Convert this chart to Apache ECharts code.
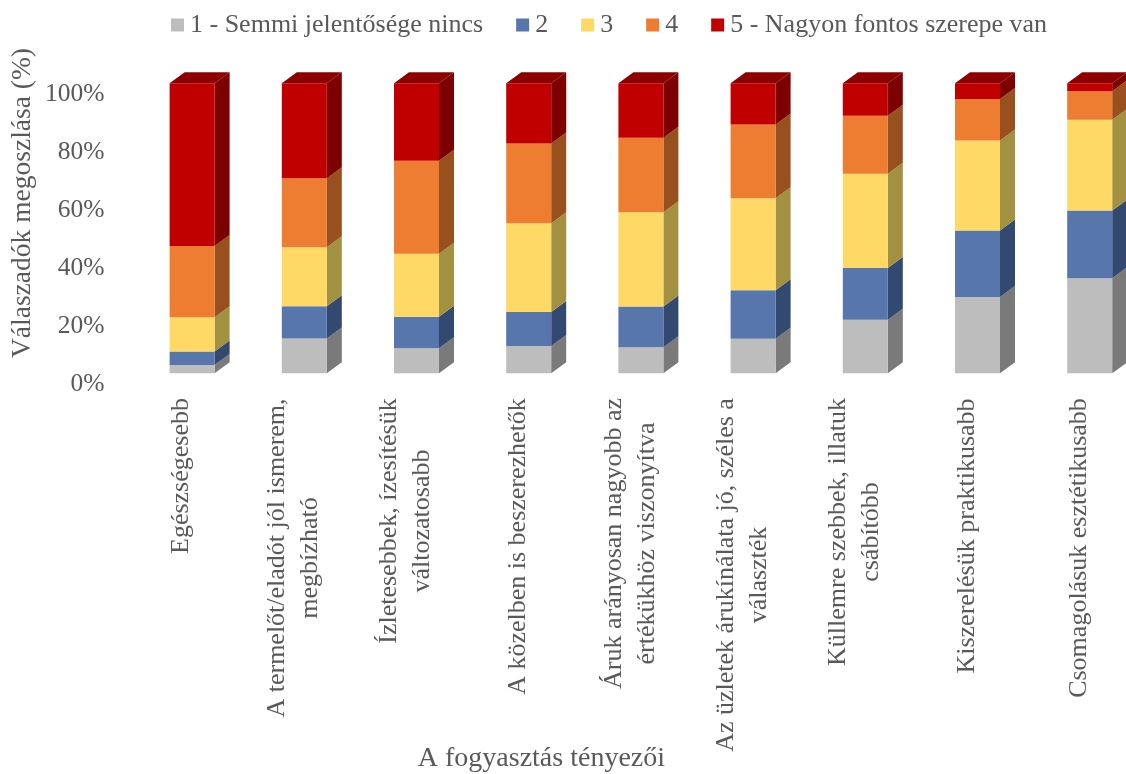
<!DOCTYPE html>
<html>
<head>
<meta charset="utf-8">
<style>html,body{margin:0;padding:0;background:#fff}#chart{width:1126px;height:774px}</style>
<script src="https://cdn.jsdelivr.net/npm/echarts@6/dist/echarts.min.js"></script>
</head>
<body>
<div id="chart"></div>
<script>
// Share of respondents per rating, by consumption factor (%)
const categories = [
  'Egészségesebb',
  'A termelőt/eladót jól ismerem,\nmegbízható',
  'Ízletesebbek, ízesítésük\nváltozatosabb',
  'A közelben is beszerezhetők',
  'Áruk arányosan nagyobb az\nértékükhöz viszonyítva',
  'Az üzletek árukínálata jó, széles a\nválaszték',
  'Küllemre szebbek, illatuk\ncsábítóbb',
  'Kiszerelésük praktikusabb',
  'Csomagolásuk esztétikusabb'
];
const rating1 = [2.9, 12.0, 8.6, 9.4, 9.0, 11.9, 18.5, 26.3, 32.8];
const rating2 = [4.6, 11.1, 10.9, 11.7, 14.0, 16.7, 17.8, 22.9, 23.3];
const rating3 = [11.8, 20.4, 21.7, 30.6, 32.5, 31.8, 32.5, 31.1, 31.3];
const rating4 = [24.6, 23.8, 32.1, 27.5, 25.7, 25.4, 20.0, 14.3, 9.9];
const rating5 = [56.1, 32.7, 26.7, 20.8, 18.8, 14.2, 11.2, 5.4, 2.7];
const seriesNames = ['1 - Semmi jelentősége nincs', '2', '3', '4', '5 - Nagyon fontos szerepe van'];
const seriesValues = [rating1, rating2, rating3, rating4, rating5];
const frontColors = ['#BDBDBD', '#5776AC', '#FFD966', '#ED7D31', '#C00000'];
const sideColors = ['#7A7A7A', '#34496F', '#A39142', '#99501F', '#7C0000'];
const topColor = '#8E0000';

const serif = '"Liberation Serif", "Times New Roman", serif';
const textColor = '#595959';
const labelSize = 26;

// Box geometry of the oblique projection, in pixels
const boxWidth = 45, depthX = 15, depthY = 11;
const frontShiftX = -12, frontShiftY = -10.7;

// Stacked segments: [category index, lower bound, upper bound]
function stackSegments(level) {
  return categories.map((_, i) => {
    let low = 0;
    for (let s = 0; s < level; s++) low += seriesValues[s][i];
    return [i, low, low + seriesValues[level][i]];
  });
}

function makeBoxRenderer(level) {
  return function (params, api) {
    const low = api.coord([api.value(0), api.value(1)]);
    const high = api.coord([api.value(0), api.value(2)]);
    const x0 = low[0] + frontShiftX, x1 = x0 + boxWidth;
    const yb = low[1] + frontShiftY, yt = high[1] + frontShiftY;
    const children = [
      { type: 'polygon', shape: { points: [[x1, yb], [x1 + depthX, yb - depthY], [x1 + depthX, yt - depthY], [x1, yt]] },
        style: { fill: sideColors[level] } },
      { type: 'rect', shape: { x: x0, y: yt, width: boxWidth, height: yb - yt },
        style: { fill: frontColors[level] } }
    ];
    if (level === seriesValues.length - 1) {
      children.push({ type: 'polygon', shape: { points: [[x0, yt], [x0 + depthX, yt - depthY], [x1 + depthX, yt - depthY], [x1, yt]] },
        style: { fill: topColor } });
    }
    return { type: 'group', children };
  };
}

// Multi-line category labels are centred inside the width of their longest line
const measure = document.createElement('canvas').getContext('2d');
measure.font = labelSize + 'px ' + serif;
const labelRich = {};
categories.forEach((c, i) => {
  const w = Math.ceil(Math.max(...c.split('\n').map(l => measure.measureText(l).width)));
  labelRich['c' + i] = { width: w, align: 'center', fontFamily: serif, fontSize: labelSize, color: textColor, lineHeight: 33 };
});

const chart = echarts.init(document.getElementById('chart'), null, { renderer: 'canvas' });
chart.setOption({
  animation: false,
  backgroundColor: '#fff',
  legend: {
    left: 166, top: 7, icon: 'rect', itemWidth: 13, itemHeight: 13, itemGap: 33,
    data: seriesNames,
    selectedMode: false,
    textStyle: { fontFamily: serif, fontSize: labelSize, color: textColor, padding: [0, 0, 0, 1] }
  },
  grid: { left: 125.5, top: 94, width: 1009.8, height: 290, containLabel: false, outerBoundsMode: 'none' },
  xAxis: {
    type: 'category',
    data: categories,
    name: 'A fogyasztás tényezői',
    nameLocation: 'middle',
    nameMoveOverlap: false,
    nameGap: 361,
    nameTextStyle: { fontFamily: serif, fontSize: 28, color: textColor, padding: [0, 178, 0, 0] },
    axisLine: { show: false },
    axisTick: { show: false },
    axisLabel: {
      interval: 0, rotate: 90, margin: 14,
      formatter: (v, i) => v.split('\n').map(l => '{c' + i + '|' + l + '}').join('\n'),
      rich: labelRich
    }
  },
  yAxis: {
    type: 'value', min: 0, max: 100, interval: 20,
    name: 'Válaszadók megoszlása (%)',
    nameLocation: 'middle',
    nameMoveOverlap: false,
    nameGap: 89,
    nameTextStyle: { fontFamily: serif, fontSize: 27.5, color: textColor, padding: [0, 0, 0, 72] },
    axisLine: { show: false },
    axisTick: { show: false },
    splitLine: { show: false },
    axisLabel: { formatter: '{value}%', fontFamily: serif, fontSize: 25.5, color: textColor, margin: 21 }
  },
  series: seriesNames.map((name, level) => ({
    type: 'custom',
    name,
    coordinateSystem: 'cartesian2d',
    data: stackSegments(level),
    encode: { x: 0, y: [1, 2] },
    itemStyle: { color: frontColors[level] },
    renderItem: makeBoxRenderer(level)
  }))
});
</script>
</body>
</html>
